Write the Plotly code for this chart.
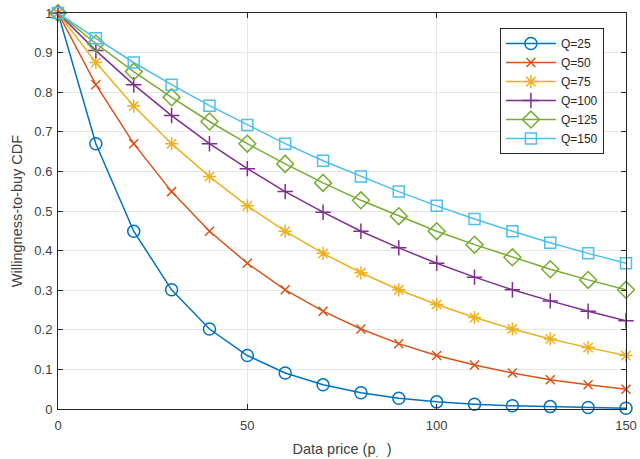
import plotly.graph_objects as go

price = [0, 10, 20, 30, 40, 50, 60, 70, 80, 90, 100, 110, 120, 130, 140, 150]
names = ["Q=25", "Q=50", "Q=75", "Q=100", "Q=125", "Q=150"]
q25 = [1, .670, .449, .301, .202, .135, .091, .061, .041, .027, .018, .012, .008, .006, .004, .002]
q50 = [1, .819, .670, .549, .449, .368, .301, .247, .202, .165, .135, .111, .091, .074, .061, .050]
q75 = [1, .875, .765, .670, .587, .513, .449, .393, .344, .301, .264, .231, .202, .177, .155, .135]
q100 = [1, .905, .819, .741, .670, .607, .549, .497, .449, .407, .368, .333, .301, .273, .247, .223]
q125 = [1, .923, .852, .787, .726, .670, .619, .571, .527, .487, .449, .415, .383, .353, .326, .301]
q150 = [1, .936, .875, .819, .766, .717, .670, .627, .587, .549, .513, .480, .449, .420, .393, .368]
series = [q25, q50, q75, q100, q125, q150]

colors = ["#0072BD", "#D95319", "#EDB120", "#7E2F8E", "#77AC30", "#4DBEEE"]
symbols = ["circle-open", "x-thin-open", "asterisk-open", "cross-thin-open", "diamond-open", "square-open"]
sizes = [12, 9, 11, 11, 13, 11]

fig = go.Figure()
for n, ys, c, s, sz in zip(names, series, colors, symbols, sizes):
    fig.add_trace(go.Scatter(
        x=price, y=ys, name=n, mode="lines+markers",
        line=dict(color=c, width=1.5),
        marker=dict(symbol=s, size=sz, color=c, line=dict(color=c, width=1.5)),
        cliponaxis=False,
    ))

axis_common = dict(
    showline=True, mirror="ticks", linecolor="#262626", linewidth=1,
    ticks="inside", ticklen=5, tickcolor="#262626",
    showgrid=True, gridcolor="#e6e6e6", gridwidth=1, zeroline=False,
    tickfont=dict(size=13, color="#404040"), automargin=False,
)
fig.update_xaxes(range=[0, 150], tickvals=[0, 50, 100, 150], ticklabelstandoff=4,
                 title=dict(text="Data price (p<sub>.&nbsp;&nbsp;&nbsp;</sub>)",
                            font=dict(size=14.5, color="#404040"), standoff=14),
                 **axis_common)
fig.update_yaxes(range=[0, 1], tickvals=[0, .1, .2, .3, .4, .5, .6, .7, .8, .9, 1],
                 ticktext=["0", "0.1", "0.2", "0.3", "0.4", "0.5", "0.6", "0.7", "0.8", "0.9", "1"],
                 ticklabelstandoff=2,
                 title=dict(text="Willingness-to-buy CDF", font=dict(size=14.5, color="#404040"), standoff=8),
                 **axis_common)

fig.update_layout(
    width=640, height=459,
    margin=dict(l=58, r=14, t=13, b=50, autoexpand=False),
    paper_bgcolor="white", plot_bgcolor="white",
    font=dict(family="Liberation Sans, Arial, sans-serif", size=12, color="#262626"),
    legend=dict(x=0.778, y=0.962, xanchor="left", yanchor="top",
                bgcolor="white", bordercolor="#262626", borderwidth=1,
                font=dict(size=12), tracegroupgap=0, itemwidth=50),
    showlegend=True,
)

fig.write_html("out.html")
